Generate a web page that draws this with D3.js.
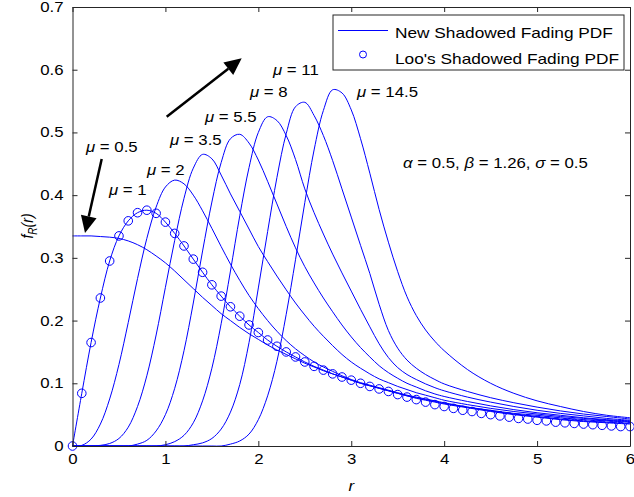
<!DOCTYPE html>
<html>
<head>
<meta charset="utf-8">
<script src="https://cdn.jsdelivr.net/npm/d3@7/dist/d3.min.js"></script>
<style>
body{margin:0;background:#fff;}
svg text{font-family:"Liberation Sans",Arial,Helvetica,sans-serif;}
</style>
</head>
<body>
<svg id="chart" width="634" height="497"></svg>
<script>
// ---------------- data ----------------
const rValues = [0,0.1,0.2,0.3,0.4,0.5,0.6,0.7,0.8,0.9,
  1.0,1.1,1.2,1.3,1.4,1.5,1.6,1.7,1.8,1.9,
  2.0,2.1,2.2,2.3,2.4,2.5,2.6,2.7,2.8,2.9,
  3.0,3.1,3.2,3.3,3.4,3.5,3.6,3.7,3.8,3.9,
  4.0,4.25,4.5,4.75,5.0,5.25,5.5,5.75,6.0];

const muValues = ["0.5","1","2","3.5","5.5","8","11","14.5"];

const pdf_mu0_5 = [0.335,0.335,0.335,0.334,0.333,0.331,0.327,0.321,0.313,0.303,
  0.292,0.279,0.265,0.251,0.237,0.224,0.211,0.200,0.189,0.179,
  0.170,0.161,0.153,0.146,0.139,0.132,0.126,0.120,0.115,0.110,
  0.105,0.100,0.096,0.092,0.088,0.084,0.080,0.077,0.074,0.071,
  0.068,0.062,0.056,0.051,0.047,0.043,0.040,0.038,0.036];
const pdf_mu1 = [0,0.084,0.165,0.236,0.295,0.335,0.359,0.372,0.376,0.371,
  0.357,0.339,0.319,0.298,0.277,0.257,0.239,0.222,0.207,0.193,
  0.181,0.169,0.159,0.150,0.142,0.134,0.127,0.121,0.115,0.110,
  0.105,0.100,0.096,0.092,0.088,0.084,0.080,0.076,0.073,0.070,
  0.067,0.061,0.055,0.050,0.046,0.042,0.039,0.037,0.035];
const pdf_mu2 = [0,0.001,0.011,0.035,0.075,0.130,0.197,0.267,0.331,0.381,
  0.413,0.424,0.418,0.400,0.375,0.347,0.318,0.290,0.264,0.240,
  0.219,0.200,0.183,0.168,0.155,0.144,0.134,0.126,0.119,0.112,
  0.106,0.101,0.097,0.093,0.089,0.085,0.081,0.078,0.075,0.072,
  0.069,0.062,0.057,0.052,0.049,0.045,0.042,0.040,0.038];
const pdf_mu3_5 = [0,0,0,0.001,0.004,0.012,0.030,0.063,0.112,0.177,
  0.253,0.328,0.395,0.443,0.465,0.458,0.432,0.402,0.374,0.346,
  0.318,0.294,0.271,0.249,0.228,0.209,0.191,0.175,0.160,0.146,
  0.134,0.124,0.115,0.107,0.101,0.095,0.090,0.085,0.081,0.077,
  0.073,0.066,0.060,0.055,0.051,0.047,0.044,0.041,0.039];
const pdf_mu5_5 = [0,0,0,0,0,0,0,0.003,0.009,0.024,
  0.050,0.092,0.152,0.228,0.311,0.389,0.452,0.490,0.497,0.483,
  0.456,0.422,0.386,0.350,0.316,0.286,0.260,0.236,0.214,0.193,
  0.174,0.157,0.142,0.128,0.117,0.108,0.100,0.094,0.088,0.083,
  0.079,0.071,0.064,0.058,0.053,0.049,0.045,0.042,0.040];
const pdf_mu8 = [0,0,0,0,0,0,0,0,0,0,
  0.002,0.007,0.017,0.037,0.072,0.124,0.195,0.279,0.367,0.444,
  0.500,0.525,0.519,0.495,0.457,0.410,0.372,0.338,0.306,0.276,
  0.247,0.218,0.190,0.163,0.141,0.125,0.114,0.106,0.099,0.093,
  0.088,0.078,0.070,0.063,0.057,0.052,0.048,0.044,0.041];
const pdf_mu11 = [0,0,0,0,0,0,0,0,0,0,
  0,0,0,0.002,0.005,0.012,0.027,0.054,0.098,0.165,
  0.252,0.342,0.428,0.498,0.541,0.548,0.527,0.495,0.455,0.410,
  0.365,0.320,0.275,0.226,0.184,0.156,0.137,0.124,0.114,0.106,
  0.099,0.087,0.077,0.069,0.062,0.056,0.051,0.047,0.043];
const pdf_mu14_5 = [0,0,0,0,0,0,0,0,0,0,
  0,0,0,0,0,0,0,0.003,0.008,0.019,
  0.042,0.080,0.135,0.210,0.297,0.388,0.472,0.535,0.568,0.563,
  0.536,0.490,0.435,0.377,0.325,0.278,0.238,0.208,0.185,0.167,
  0.152,0.122,0.100,0.084,0.072,0.063,0.055,0.049,0.045];

const looR = [0,0.1,0.2,0.3,0.4,0.5,0.6,0.7,0.8,0.9,
  1.0,1.1,1.2,1.3,1.4,1.5,1.6,1.7,1.8,1.9,
  2.0,2.1,2.2,2.3,2.4,2.5,2.6,2.7,2.8,2.9,
  3.0,3.1,3.2,3.3,3.4,3.5,3.6,3.7,3.8,3.9,
  4.0,4.1,4.2,4.3,4.4,4.5,4.6,4.7,4.8,4.9,
  5.0,5.1,5.2,5.3,5.4,5.5,5.6,5.7,5.8,5.9,6.0];
const looPdf = [0,0.084,0.165,0.236,0.295,0.335,0.359,0.372,0.376,0.371,
  0.357,0.339,0.319,0.298,0.277,0.257,0.239,0.222,0.207,0.193,
  0.181,0.169,0.159,0.150,0.142,0.134,0.127,0.121,0.115,0.110,
  0.105,0.100,0.095,0.091,0.087,0.082,0.078,0.074,0.070,0.066,
  0.063,0.060,0.057,0.055,0.052,0.050,0.048,0.046,0.044,0.043,
  0.041,0.040,0.038,0.037,0.036,0.035,0.034,0.033,0.032,0.031,0.031];

const xTicks = [0,1,2,3,4,5,6];
const xTickLabels = ["0","1","2","3","4","5","6"];
const yTicks = [0,0.1,0.2,0.3,0.4,0.5,0.6,0.7];
const yTickLabels = ["0","0.1","0.2","0.3","0.4","0.5","0.6","0.7"];
const legendLabels = ["New Shadowed Fading PDF","Loo's Shadowed Fading PDF"];

// ---------------- drawing ----------------
const svg = d3.select("#chart");
const SX = 1.2, FS = 14;
const axisColor = "#262626", blue = "#0000ff";
const L = 72.5, R = 630, T = 7, B = 446;

const x = d3.scaleLinear().domain([0,6]).range([L,R]);
const y = d3.scaleLinear().domain([0,0.7]).range([B,T]);

function addText(g, px, py, anchor, fs){
  return g.append("text")
    .attr("transform",`translate(${px},${py}) scale(${SX},1)`)
    .attr("text-anchor",anchor||"start")
    .attr("font-size",fs||FS).attr("fill","#000");
}

// curves
const series = [pdf_mu0_5,pdf_mu1,pdf_mu2,pdf_mu3_5,pdf_mu5_5,pdf_mu8,pdf_mu11,pdf_mu14_5];
const line = d3.line().x(d=>x(d[0])).y(d=>y(d[1])).curve(d3.curveCatmullRom.alpha(0.5));
const gc = svg.append("g");
series.forEach(s=>{
  gc.append("path").datum(rValues.map((r,i)=>[r,s[i]]))
    .attr("d",line).attr("fill","none").attr("stroke",blue).attr("stroke-width",1);
});
// Loo markers
gc.selectAll("circle.loo").data(looR.map((r,i)=>[r,looPdf[i]])).enter()
  .append("circle").attr("class","loo")
  .attr("cx",d=>x(d[0])).attr("cy",d=>y(d[1])).attr("r",4.3)
  .attr("fill","none").attr("stroke",blue).attr("stroke-width",1);

// axes (box, inward ticks)
function styleAxis(g){
  g.selectAll("path.domain").attr("stroke",axisColor);
  g.selectAll(".tick line").attr("stroke",axisColor);
  g.selectAll("text").attr("font-size",FS).attr("fill","#000")
   .attr("font-family",'"Liberation Sans",Arial,sans-serif');
}
const gxb = svg.append("g").attr("transform",`translate(0,${B})`)
  .call(d3.axisBottom(x).tickValues(xTicks).tickFormat((d,i)=>xTickLabels[i]).tickSizeInner(-5).tickSizeOuter(0).tickPadding(8));
styleAxis(gxb);
gxb.selectAll(".tick text").attr("transform",`scale(${SX},1)`);
const gxt = svg.append("g").attr("transform",`translate(0,${T})`)
  .call(d3.axisTop(x).tickValues(xTicks).tickFormat("").tickSizeInner(-5).tickSizeOuter(0));
styleAxis(gxt);
const gyl = svg.append("g").attr("transform",`translate(${L},0)`)
  .call(d3.axisLeft(y).tickValues(yTicks).tickFormat((d,i)=>yTickLabels[i]).tickSizeInner(-5).tickSizeOuter(0).tickPadding(9));
styleAxis(gyl);
gyl.selectAll(".tick text").attr("x",-9/SX).attr("transform",`scale(${SX},1)`);
const gyr = svg.append("g").attr("transform",`translate(${R},0)`)
  .call(d3.axisRight(y).tickValues(yTicks).tickFormat("").tickSizeInner(-5).tickSizeOuter(0));
styleAxis(gyr);

// axis labels
const xl = addText(svg, (L+R)/2, 491, "middle");
xl.append("tspan").attr("font-style","italic").text("r");
const yl = svg.append("text").attr("transform",`translate(33,226) rotate(-90) scale(1,${SX})`)
  .attr("text-anchor","middle").attr("font-size",FS).attr("fill","#000");
yl.append("tspan").attr("font-style","italic").text("f");
yl.append("tspan").attr("font-style","italic").attr("font-size",10).attr("dy",3).text("R");
yl.append("tspan").attr("font-style","italic").attr("dy",-3).text("(r)");

// mu labels
const muPos = [[86,152],[109,195],[147,175],[170,145],[205,122],[250,97],[273,75],[357,97]];
muValues.forEach((m,i)=>{
  const t = addText(svg, muPos[i][0], muPos[i][1], "start");
  t.append("tspan").attr("font-style","italic").text("\u03bc");
  t.append("tspan").text(" = " + m);
});
// parameter text
const pt = addText(svg, 403, 168, "start");
pt.append("tspan").attr("font-style","italic").text("\u03b1");
pt.append("tspan").text(" = 0.5, ");
pt.append("tspan").attr("font-style","italic").text("\u03b2");
pt.append("tspan").text(" = 1.26, ");
pt.append("tspan").attr("font-style","italic").text("\u03c3");
pt.append("tspan").text(" = 0.5");

// arrows
function arrow(x1,y1,x2,y2){
  const dx=x2-x1, dy=y2-y1, len=Math.hypot(dx,dy), ux=dx/len, uy=dy/len;
  const hl=17, hw=8;
  const bx=x2-ux*hl, by=y2-uy*hl;
  svg.append("line").attr("x1",x1).attr("y1",y1).attr("x2",bx).attr("y2",by)
    .attr("stroke","#000").attr("stroke-width",2.5);
  svg.append("path").attr("d",`M${x2},${y2}L${bx-uy*hw},${by+ux*hw}L${bx+uy*hw},${by-ux*hw}Z`).attr("fill","#000");
}
arrow(101.7,159,85,233);
arrow(166.7,116.7,241.7,58.3);

// legend
const lg = svg.append("g");
lg.append("rect").attr("x",333).attr("y",15).attr("width",291).attr("height",55)
  .attr("fill","#fff").attr("stroke",axisColor).attr("stroke-width",1);
lg.append("line").attr("x1",338).attr("x2",388).attr("y1",30.5).attr("y2",30.5).attr("stroke",blue).attr("stroke-width",1);
lg.append("circle").attr("cx",363).attr("cy",54.5).attr("r",3.5).attr("fill","none").attr("stroke",blue);
addText(lg, 395, 37.5, "start", 14.4).text(legendLabels[0]);
addText(lg, 395, 64, "start", 14.4).text(legendLabels[1]);
</script>
</body>
</html>
